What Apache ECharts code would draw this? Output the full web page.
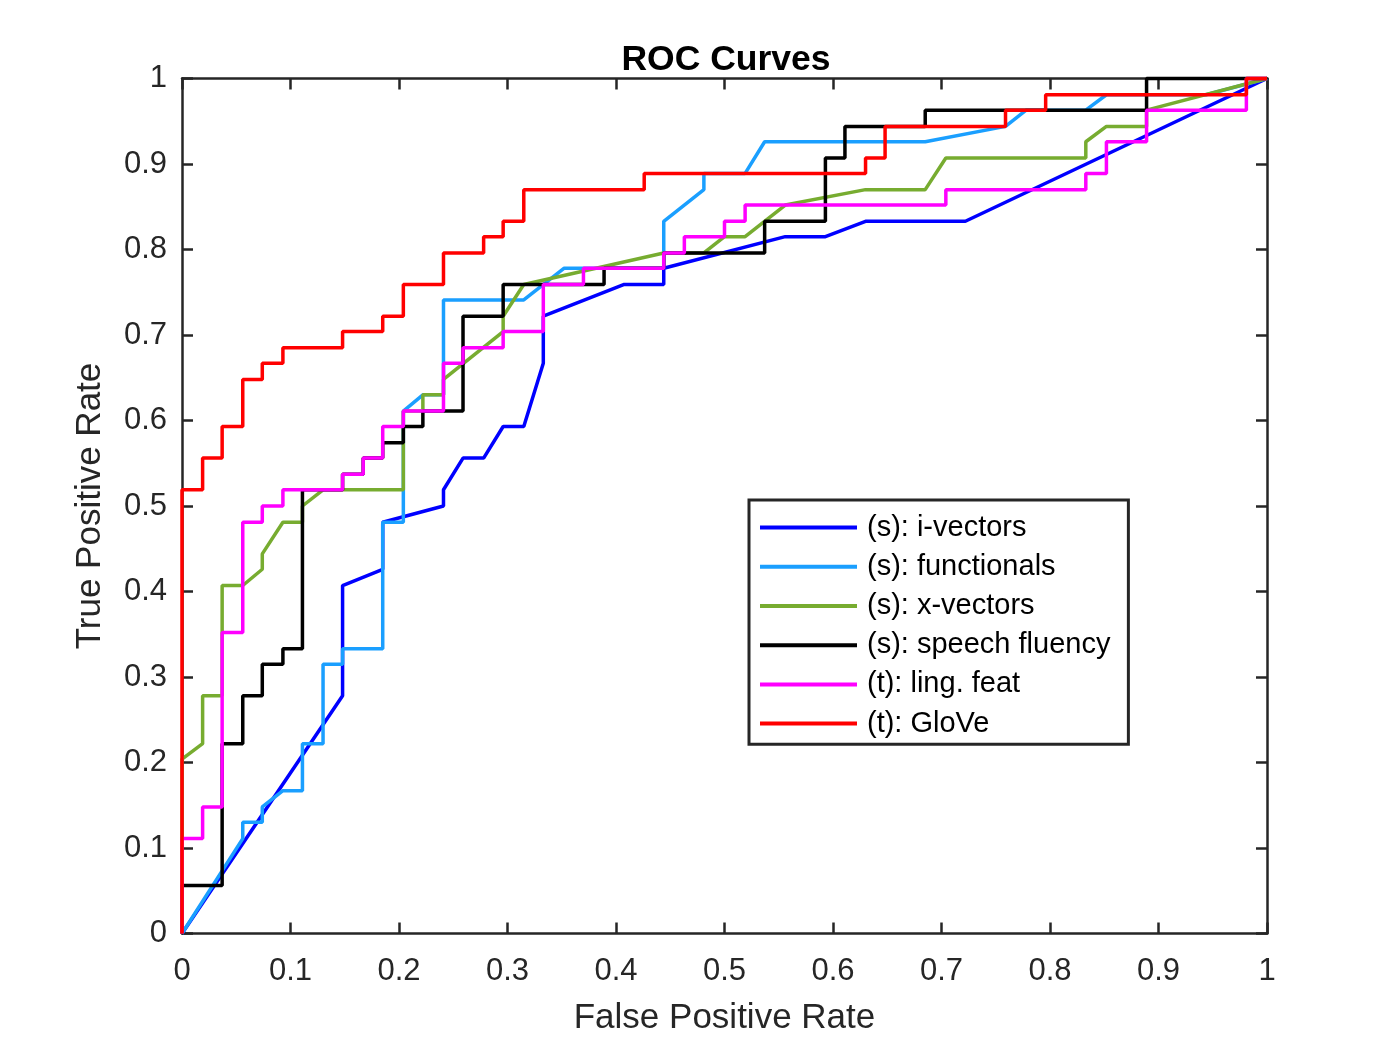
<!DOCTYPE html>
<html>
<head>
<meta charset="utf-8">
<script src="https://cdn.jsdelivr.net/npm/echarts@6/dist/echarts.min.js"></script>
<style>
  html, body { margin: 0; padding: 0; background: #fff; }
  #chart { width: 1400px; height: 1050px; }
</style>
</head>
<body>
<div id="chart"></div>
<script>
// ROC curves, [false positive rate, true positive rate] vertices
var seriesNames = ['(s): i-vectors', '(s): functionals', '(s): x-vectors',
                   '(s): speech fluency', '(t): ling. feat', '(t): GloVe'];
var seriesColors = ['#0000ff', '#1a9fff', '#77ac30', '#000000', '#ff00ff', '#ff0000'];

var ivectors = [[0,0],[.148,.278],[.148,.407],[.185,.426],[.185,.481],[.241,.5],[.241,.519],
  [.259,.556],[.278,.556],[.296,.593],[.315,.593],[.333,.667],[.333,.722],[.407,.759],[.444,.759],
  [.444,.778],[.556,.815],[.593,.815],[.630,.833],[.722,.833],[1,1]];

var functionals = [[0,0],[.056,.111],[.056,.130],[.074,.130],[.074,.148],[.093,.167],[.111,.167],
  [.111,.222],[.130,.222],[.130,.315],[.148,.315],[.148,.333],[.185,.333],[.185,.481],[.204,.481],
  [.204,.611],[.222,.630],[.241,.630],[.241,.741],[.315,.741],[.352,.778],[.444,.778],[.444,.833],
  [.481,.870],[.481,.889],[.519,.889],[.537,.926],[.685,.926],[.759,.944],[.778,.963],[.833,.963],
  [.852,.981],[.944,.981],[1,1]];

var xvectors = [[0,0],[0,.204],[.019,.222],[.019,.278],[.037,.278],[.037,.407],[.056,.407],
  [.074,.426],[.074,.444],[.093,.481],[.111,.481],[.111,.5],[.130,.519],[.204,.519],[.204,.611],
  [.222,.611],[.222,.630],[.241,.630],[.241,.648],[.296,.704],[.296,.722],[.315,.759],[.444,.796],
  [.481,.796],[.5,.815],[.519,.815],[.556,.852],[.630,.870],[.685,.870],[.704,.907],[.833,.907],
  [.833,.926],[.852,.944],[.889,.944],[.889,.963],[1,1]];

var fluency = [[0,0],[0,.056],[.037,.056],[.037,.222],[.056,.222],[.056,.278],[.074,.278],
  [.074,.315],[.093,.315],[.093,.333],[.111,.333],[.111,.519],[.148,.519],[.148,.537],[.167,.537],
  [.167,.556],[.185,.556],[.185,.574],[.204,.574],[.204,.593],[.222,.593],[.222,.611],[.259,.611],
  [.259,.722],[.296,.722],[.296,.759],[.389,.759],[.389,.778],[.444,.778],[.444,.796],[.537,.796],
  [.537,.833],[.593,.833],[.593,.907],[.611,.907],[.611,.944],[.685,.944],[.685,.963],[.889,.963],
  [.889,1],[1,1]];

var lingFeat = [[0,0],[0,.111],[.019,.111],[.019,.148],[.037,.148],[.037,.352],[.056,.352],
  [.056,.481],[.074,.481],[.074,.5],[.093,.5],[.093,.519],[.148,.519],[.148,.537],[.167,.537],
  [.167,.556],[.185,.556],[.185,.593],[.204,.593],[.204,.611],[.241,.611],[.241,.667],[.259,.667],
  [.259,.685],[.296,.685],[.296,.704],[.333,.704],[.333,.759],[.370,.759],[.370,.778],[.444,.778],
  [.444,.796],[.463,.796],[.463,.815],[.5,.815],[.5,.833],[.519,.833],[.519,.852],[.704,.852],
  [.704,.870],[.833,.870],[.833,.889],[.852,.889],[.852,.926],[.889,.926],[.889,.963],[.981,.963],
  [.981,1],[1,1]];

var glove = [[0,0],[0,.519],[.019,.519],[.019,.556],[.037,.556],[.037,.593],[.056,.593],
  [.056,.648],[.074,.648],[.074,.667],[.093,.667],[.093,.685],[.148,.685],[.148,.704],[.185,.704],
  [.185,.722],[.204,.722],[.204,.759],[.241,.759],[.241,.796],[.278,.796],[.278,.815],[.296,.815],
  [.296,.833],[.315,.833],[.315,.870],[.426,.870],[.426,.889],[.630,.889],[.630,.907],[.648,.907],
  [.648,.944],[.759,.944],[.759,.963],[.796,.963],[.796,.981],[.981,.981],[.981,1],[1,1]];

var curves = [ivectors, functionals, xvectors, fluency, lingFeat, glove];

var font = 'Liberation Sans, Arial, Helvetica, sans-serif';
var axisColor = '#262626';

var chart = echarts.init(document.getElementById('chart'));

function boxAxis(pos, showLabel, name) {
    return {
        type: 'value',
        position: pos,
        min: 0,
        max: 1,
        interval: 0.1,
        name: name || '',
        nameLocation: 'middle',
        nameGap: (pos === 'bottom') ? 67 : 74.5,
        nameTextStyle: { color: axisColor, fontSize: 35, fontFamily: font },
        axisLine: { show: true, onZero: false, lineStyle: { color: axisColor, width: 2.5 } },
        axisTick: { show: true, inside: true, length: 11, lineStyle: { color: axisColor, width: 2.5 } },
        axisLabel: {
            show: showLabel,
            color: axisColor,
            fontSize: 31,
            fontFamily: font,
            margin: (pos === 'bottom') ? 22 : 15
        },
        splitLine: { show: false }
    };
}

var series = [];
for (var i = 0; i < curves.length; i++) {
    series.push({
        name: seriesNames[i],
        type: 'line',
        data: curves[i],
        color: seriesColors[i],
        symbol: 'none',
        showSymbol: false,
        clip: false,
        lineStyle: { width: 3.5, color: seriesColors[i] },
        z: 2 + i
    });
}

var option = {
    backgroundColor: '#fff',
    animation: false,
    title: {
        text: 'ROC Curves',
        left: 721,
        top: 37,
        textAlign: 'center',
        textStyle: { color: '#000', fontSize: 35.5, fontWeight: 'bold', fontFamily: font }
    },
    grid: { left: 182, right: 133, top: 78.5, bottom: 116.5 },
    legend: {
        data: seriesNames,
        orient: 'vertical',
        left: 749,
        top: 500,
        icon: 'rect',
        itemWidth: 97,
        itemHeight: 4,
        itemGap: 0,
        padding: [8, 18, 1, 11],
        backgroundColor: '#fff',
        borderColor: axisColor,
        borderWidth: 3,
        textStyle: { color: '#000', fontSize: 29, lineHeight: 39.2, fontFamily: font, padding: [0, 0, 0, 5] }
    },
    xAxis: [boxAxis('bottom', true, 'False Positive Rate'), boxAxis('top', false)],
    yAxis: [boxAxis('left', true, 'True Positive Rate'), boxAxis('right', false)],
    series: series
};

chart.setOption(option);
</script>
</body>
</html>
